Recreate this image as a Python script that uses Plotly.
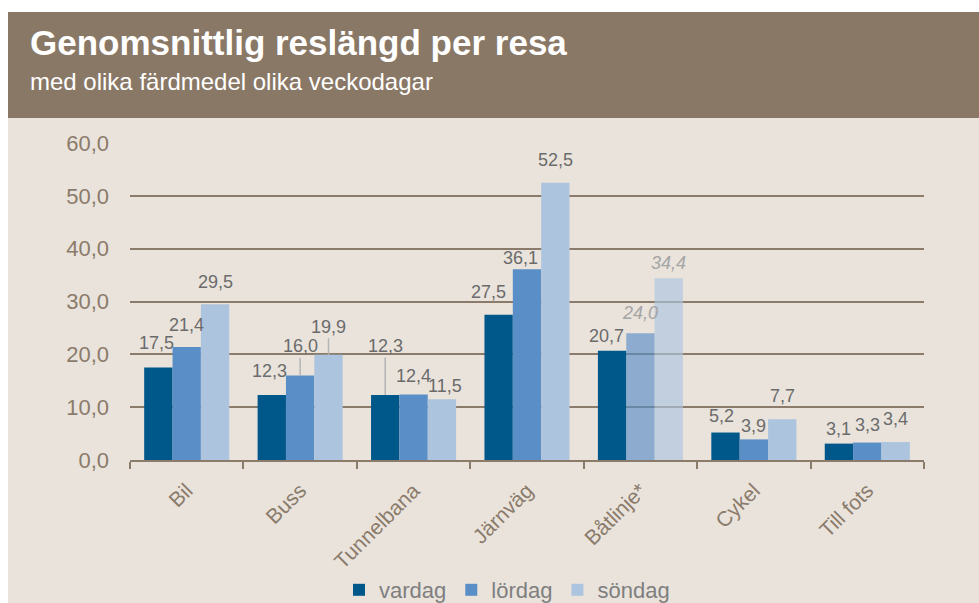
import plotly.graph_objects as go

# ---------------- data ----------------
categories = ["Bil", "Buss", "Tunnelbana", "Järnväg", "Båtlinje*", "Cykel", "Till fots"]
vardag = [17.5, 12.3, 12.3, 27.5, 20.7, 5.2, 3.1]
lordag = [21.4, 16.0, 12.4, 36.1, 24.0, 3.9, 3.3]
sondag = [29.5, 19.9, 11.5, 52.5, 34.4, 7.7, 3.4]
series_names = ["vardag", "lördag", "söndag"]
y_ticks = [0, 10, 20, 30, 40, 50, 60]
uncertain_category = "Båtlinje*"   # shown faded for lördag/söndag

# ---------------- style / layout ----------------
FIG_W, FIG_H = 979, 603
L, R, T, B = 130, 924, 143, 460
PW, PH = R - L, B - T

def px(x):
    return (x - L) / PW

def py(y):
    return (B - y) / PH

COLORS = ["#00578a", "#5a8ec6", "#adc4de"]
BEIGE = "#e9e3dc"
BROWN = "#8a7866"
AXIS = "#8b7b6b"
LABEL = "#6b6b6b"
FONT = "Arial, Liberation Sans, sans-serif"
BARGAP = 0.25
LABEL_SIZE = 18

# label nudges: (series, category) -> (gap in px above bar top, x nudge, leader?)
DEFAULT_GAP = 12
NUDGE = {
    (0, "Bil"): (18, -2, False), (1, "Bil"): (15, 0, False), (2, "Bil"): (15, 0, False),
    (0, "Buss"): (17, -2, False), (1, "Buss"): (23, 0, True), (2, "Buss"): (22, 0, True),
    (0, "Tunnelbana"): (43, 0, True), (1, "Tunnelbana"): (11, 0, False), (2, "Tunnelbana"): (6, 3, False),
    (0, "Järnväg"): (16, -10, False), (1, "Järnväg"): (4, -7, False), (2, "Järnväg"): (16, 0, False),
    (0, "Båtlinje*"): (8, -6, False), (1, "Båtlinje*"): (13, 0, False), (2, "Båtlinje*"): (8, 0, False),
    (0, "Cykel"): (10, -4, False), (1, "Cykel"): (6, 0, False), (2, "Cykel"): (16, 0, False),
    (0, "Till fots"): (8, 0, False), (1, "Till fots"): (11, 0, False), (2, "Till fots"): (16, 0, False),
}

fig = go.Figure()
all_series = [vardag, lordag, sondag]
for i, (name, vals) in enumerate(zip(series_names, all_series)):
    opac = [0.65 if (c == uncertain_category and i > 0) else 1.0 for c in categories]
    fig.add_trace(go.Bar(
        x=categories, y=vals, name=name,
        marker=dict(color=COLORS[i], opacity=opac, line=dict(width=0)),
        hoverinfo="skip",
    ))

# value labels
bar_px = PW / len(categories) * (1 - BARGAP) / 3
annotations = []
for i, vals in enumerate(all_series):
    for c, v in zip(categories, vals):
        gap, dx, leader = NUDGE.get((i, c), (DEFAULT_GAP, 0, False))
        txt = f"{v:.1f}".replace(".", ",")
        faded = (c == uncertain_category and i > 0)
        color = "#a5a5a5" if faded else LABEL
        if faded:
            txt = f"<i>{txt}</i>"
        xs = (i - 1) * bar_px + dx
        if leader:
            annotations.append(dict(
                x=c, y=v, xref="x", yref="y", text=txt, showarrow=True,
                arrowhead=0, arrowwidth=1.5, arrowcolor="#b4b4b4",
                ax=0, ay=-(gap + 6), xshift=xs, standoff=0,
                font=dict(family=FONT, size=LABEL_SIZE, color=color),
            ))
        else:
            annotations.append(dict(
                x=c, y=v, xref="x", yref="y", text=txt, showarrow=False,
                yanchor="bottom", xanchor="center", xshift=xs, yshift=gap - 5,
                font=dict(family=FONT, size=LABEL_SIZE, color=color),
            ))

# title + subtitle
annotations.append(dict(
    x=px(28), y=py(42), xref="paper", yref="paper", xanchor="left", yanchor="middle",
    text="<b>Genomsnittlig reslängd per resa</b>", showarrow=False,
    font=dict(family=FONT, size=35, color="white"),
))
annotations.append(dict(
    x=px(28), y=py(81), xref="paper", yref="paper", xanchor="left", yanchor="middle",
    text="med olika färdmedel olika veckodagar", showarrow=False,
    font=dict(family=FONT, size=24, color="white"),
))

shapes = [
    dict(type="rect", xref="paper", yref="paper", layer="below",
         x0=px(8), x1=px(FIG_W + 5), y0=py(FIG_H + 5), y1=py(118),
         fillcolor=BEIGE, line=dict(width=0)),
    dict(type="rect", xref="paper", yref="paper", layer="below",
         x0=px(8), x1=px(FIG_W + 5), y0=py(118), y1=py(12),
         fillcolor=BROWN, line=dict(width=0)),
]

fig.update_layout(
    width=FIG_W, height=FIG_H,
    margin=dict(l=L, r=FIG_W - R, t=T, b=FIG_H - B, pad=0, autoexpand=False),
    paper_bgcolor="white", plot_bgcolor="rgba(0,0,0,0)",
    barmode="group", bargap=BARGAP, bargroupgap=0,
    separators=", ",
    font=dict(family=FONT, color=AXIS),
    showlegend=True,
    legend=dict(
        orientation="h", x=px(507), y=py(590), xanchor="center", yanchor="middle",
        font=dict(family=FONT, size=22, color="#7f7f7f"),
        bgcolor="rgba(0,0,0,0)", itemclick=False, itemdoubleclick=False,
        traceorder="normal",
    ),
    annotations=annotations,
    shapes=shapes,
)
fig.update_yaxes(
    range=[0, 60], tickvals=y_ticks, tickformat=".1f",
    showgrid=True, gridcolor=AXIS, gridwidth=2,
    zeroline=False, showline=False, ticks="",
    tickfont=dict(family=FONT, size=22, color=AXIS),
    ticklabelstandoff=20, fixedrange=True, automargin=False,
)
fig.update_xaxes(
    showline=True, linecolor=AXIS, linewidth=2,
    ticks="outside", tickson="boundaries", ticklen=7, tickwidth=2, tickcolor=AXIS,
    tickangle=-45, tickfont=dict(family=FONT, size=21, color=AXIS),
    ticklabelstandoff=8, showgrid=False, fixedrange=True, automargin=False,
)

fig.write_html(
    "out.html",
    config={"displayModeBar": False},
    post_script="document.body.style.margin='0';document.body.style.overflow='hidden';",
)
